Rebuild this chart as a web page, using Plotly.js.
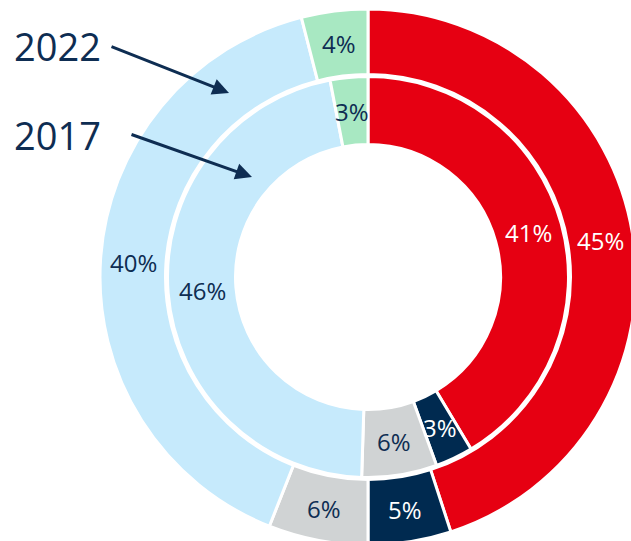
<!DOCTYPE html>
<html>
<head>
<meta charset="utf-8">
<script src="https://cdn.plot.ly/plotly-3.0.1.min.js"></script>
<style>
html, body { margin: 0; padding: 0; overflow: hidden; background: #ffffff; }
#chart { width: 650px; height: 560px; }
</style>
</head>
<body>
<div id="chart"></div>
<script>
// ---- data ----
const categories = ['A', 'B', 'C', 'D', 'E'];
const values2022 = [45, 5, 6, 40, 4];
const values2017 = [41, 3, 6, 46, 3];
const sliceColors = ['#E60012', '#002A50', '#D0D3D4', '#C6EAFC', '#A8E8C2'];
const labelColors = ['#FFFFFF', '#FFFFFF', '#0E2D52', '#0E2D52', '#0E2D52'];
const years = ['2022', '2017'];

// ---- layout constants (pixels) ----
const W = 650, H = 560;
const CX = 368, CY = 277;
const OUTER_R = 268, OUTER_HOLE = 202.5;
const INNER_R = 200.5, INNER_HOLE = 132.5;
const FONT = 'Open Sans, sans-serif';
const NAVY = '#0E2D52';

function domainFor(r) {
  return {
    x: [(CX - r) / W, (CX + r) / W],
    y: [(H - CY - r) / H, (H - CY + r) / H]
  };
}

function pieTrace(values, r, hole, name) {
  return {
    type: 'pie',
    name: name,
    labels: categories,
    values: values,
    sort: false,
    direction: 'clockwise',
    rotation: 0,
    hole: hole / r,
    domain: domainFor(r),
    textinfo: 'none',
    hoverinfo: 'label+percent',
    marker: { colors: sliceColors, line: { color: '#FFFFFF', width: 3 } },
    showlegend: false
  };
}

function sliceLabels(values, rMid) {
  const total = values.reduce((a, b) => a + b, 0);
  let cum = 0;
  return values.map((v, i) => {
    const mid = (cum + v / 2) / total;
    cum += v;
    const ang = mid * 2 * Math.PI;
    const px = CX + rMid * Math.sin(ang);
    const py = CY - rMid * Math.cos(ang);
    return {
      xref: 'paper', yref: 'paper',
      x: px / W, y: (H - py) / H,
      xanchor: 'center', yanchor: 'middle',
      text: v + '%',
      showarrow: false,
      font: { family: FONT, size: 24, color: labelColors[i] }
    };
  });
}

const annotations = []
  .concat(sliceLabels(values2022, (OUTER_R + OUTER_HOLE) / 2))
  .concat(sliceLabels(values2017, (INNER_R + INNER_HOLE) / 2));

// year labels
const yearPos = [[57, 46], [57, 135]];
years.forEach((y, i) => {
  annotations.push({
    xref: 'paper', yref: 'paper',
    x: yearPos[i][0] / W, y: (H - yearPos[i][1]) / H,
    xanchor: 'center', yanchor: 'middle',
    text: y, showarrow: false,
    font: { family: FONT, size: 38, color: NAVY }
  });
});

// arrows (tip, tail)
const arrows = [[[229, 93], [110, 46]], [[252, 177], [130, 134]]];
arrows.forEach(a => {
  annotations.push({
    xref: 'paper', yref: 'paper',
    x: a[0][0] / W, y: (H - a[0][1]) / H,
    ax: a[1][0] - a[0][0], ay: a[1][1] - a[0][1],
    text: '', showarrow: true,
    arrowhead: 2, arrowsize: 1.1, arrowwidth: 3,
    arrowcolor: NAVY, standoff: 0
  });
});

const layout = {
  width: W, height: H,
  margin: { l: 0, r: 0, t: 0, b: 0 },
  paper_bgcolor: '#FFFFFF',
  plot_bgcolor: '#FFFFFF',
  showlegend: false,
  annotations: annotations
};

Plotly.newPlot('chart', [
  pieTrace(values2022, OUTER_R, OUTER_HOLE, '2022'),
  pieTrace(values2017, INNER_R, INNER_HOLE, '2017')
], layout, { displayModeBar: false, staticPlot: true });
</script>
</body>
</html>
